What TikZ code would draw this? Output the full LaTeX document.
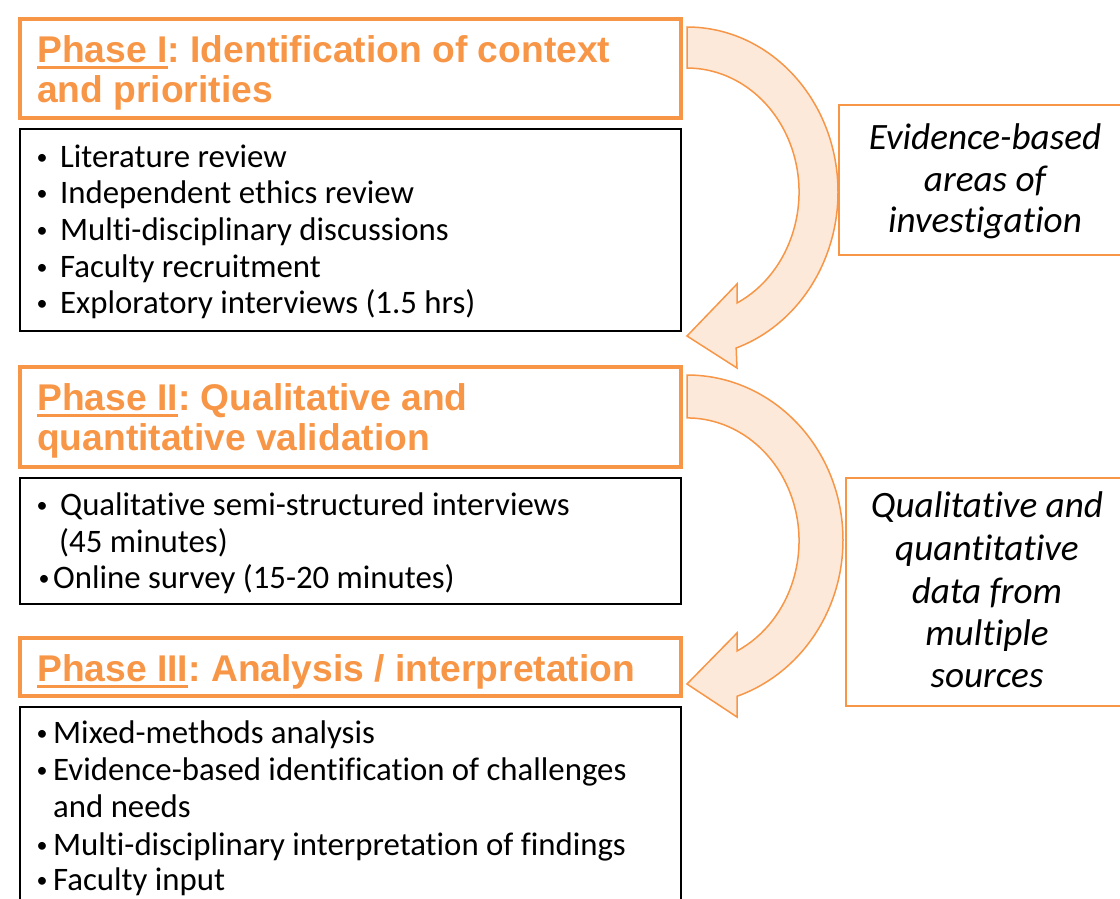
\documentclass[tikz,border=0pt]{standalone}
\usepackage{fontspec}
\setmainfont{Carlito}[Ligatures=NoCommon]
\newfontfamily\titlefont{Liberation Sans}
\definecolor{phorange}{HTML}{F79646}
\definecolor{peach}{HTML}{FDE9D9}
\tikzset{
  phasebox/.style={draw=phorange, line width=4pt, rectangle, inner sep=0, outer sep=0, anchor=north west},
  listbox/.style={draw=black, line width=2.5pt, rectangle, inner sep=0, outer sep=0, anchor=north west},
  labelbox/.style={draw=phorange, line width=1.5pt, rectangle, inner sep=0, outer sep=0, anchor=north west},
  ttl/.style={anchor=base west, inner sep=0, text=phorange, font=\titlefont\bfseries\fontsize{37.2}{40}\selectfont},
  uline/.style={draw=phorange, line width=3pt},
  body/.style={anchor=base west, inner sep=0, font=\fontsize{32.8}{37}\selectfont},
  bul/.style={anchor=base, inner sep=0, font=\fontsize{22}{37}\selectfont, yshift=3pt},
  lbl/.style={anchor=base, inner sep=0, font=\itshape\fontsize{37.2}{42}\selectfont},
  arrowshape/.style={fill=peach, draw=phorange, line width=1.5pt, line join=miter}
}
\begin{document}
\begin{tikzpicture}[x=1pt,y=1pt]
\useasboundingbox (0,0) rectangle (1120,-898);
\clip (0,0) rectangle (1120,-898);

% curved arrows
\draw[arrowshape] (687,-27) arc[start angle=90, end angle=-71, x radius=151pt, y radius=165pt]
  -- (737,-368) -- (687,-336) -- (737,-284) -- (737,-303)
  arc[start angle=-63.5, end angle=90, x radius=112pt, y radius=124pt] -- cycle;
\draw[arrowshape] (687,-375) arc[start angle=90, end angle=-71.3, x radius=156pt, y radius=165pt]
  -- (737,-717) -- (687,-684) -- (737,-633) -- (737,-651)
  arc[start angle=-63.5, end angle=90, x radius=112pt, y radius=123pt] -- cycle;

% boxes
\node[phasebox, minimum width=661pt, minimum height=99pt] (p1) at (20,-19) {};
\node[listbox, minimum width=661pt, minimum height=202pt] (b1) at (20,-129) {};
\node[phasebox, minimum width=661pt, minimum height=100pt] (p2) at (20,-367) {};
\node[listbox, minimum width=661pt, minimum height=126pt] (b2) at (20,-478) {};
\node[phasebox, minimum width=661pt, minimum height=58pt] (p3) at (20,-638) {};
\node[listbox, minimum width=661pt, minimum height=220pt] (b3) at (20,-707) {};
\node[labelbox, minimum width=300pt, minimum height=150pt] (l1) at (839,-105) {};
\node[labelbox, minimum width=300pt, minimum height=228pt] (l2) at (846,-478) {};

% titles
\node[ttl] (t1u) at (37,-62) {Phase I};
\node[ttl] (t1a) at (t1u.base east) {:\ Identification of context};
\draw[uline] ([yshift=-5pt]t1u.base west) -- ([yshift=-5pt]t1u.base east);
\node[ttl] (t1b) at (37,-102) {and priorities};
\node[ttl] (t2u) at (37,-410) {Phase II};
\node[ttl] (t2a) at (t2u.base east) {:\ Qualitative and};
\draw[uline] ([yshift=-5pt]t2u.base west) -- ([yshift=-5pt]t2u.base east);
\node[ttl] (t2b) at (37,-450) {quantitative validation};
\node[ttl] (t3u) at (37,-681) {Phase III};
\node[ttl] (t3a) at (t3u.base east) {:\ Analysis / interpretation};
\draw[uline] ([yshift=-5pt]t3u.base west) -- ([yshift=-5pt]t3u.base east);

% box 1
\node[bul] (b1d1) at (42,-167) {•};
\node[body] (b1t1) at (60,-167) {Literature review};
\node[bul] (b1d2) at (42,-203) {•};
\node[body] (b1t2) at (60,-203) {Independent ethics review};
\node[bul] (b1d3) at (42,-240) {•};
\node[body] (b1t3) at (60,-240) {Multi-disciplinary discussions};
\node[bul] (b1d4) at (42,-277) {•};
\node[body] (b1t4) at (60,-277) {Faculty recruitment};
\node[bul] (b1d5) at (42,-313) {•};
\node[body] (b1t5) at (60,-313) {Exploratory interviews (1.5 hrs)};

% box 2
\node[bul] (b2d1) at (42,-515) {•};
\node[body] (b2t1) at (60,-515) {Qualitative semi-structured interviews};
\node[body] (b2t1b) at (59,-552) {(45 minutes)};
\node[bul] (b2d2) at (44,-588) {•};
\node[body] (b2t2) at (53,-588) {Online survey (15-20 minutes)};

% box 3
\node[bul] (b3d1) at (42,-743) {•};
\node[body] (b3t1) at (53,-743) {Mixed-methods analysis};
\node[bul] (b3d2) at (42,-780) {•};
\node[body] (b3t2) at (53,-780) {Evidence-based identification of challenges};
\node[body] (b3t2b) at (53,-817) {and needs};
\node[bul] (b3d3) at (42,-855) {•};
\node[body] (b3t3) at (53,-855) {Multi-disciplinary interpretation of findings};
\node[bul] (b3d4) at (42,-890) {•};
\node[body] (b3t4) at (53,-890) {Faculty input};

% side labels
\node[lbl] (l1a) at (985,-149) {Evidence-based};
\node[lbl] (l1b) at (985,-191) {areas of};
\node[lbl] (l1c) at (985,-232) {investigation};
\node[lbl] (l2a) at (987,-517) {Qualitative and};
\node[lbl] (l2b) at (987,-560) {quantitative};
\node[lbl] (l2c) at (987,-603) {data from};
\node[lbl] (l2d) at (987,-645) {multiple};
\node[lbl] (l2e) at (987,-687) {sources};
\end{tikzpicture}
\end{document}
